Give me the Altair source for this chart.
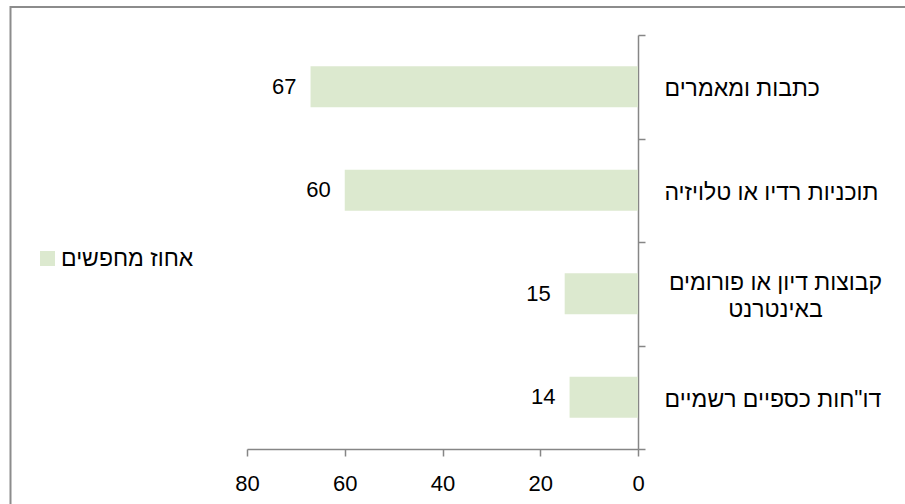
import altair as alt
import pandas as pd

# Sources searched, top to bottom
categories = [
    "כתבות ומאמרים",
    "תוכניות רדיו או טלויזיה",
    "קבוצות דיון או פורומים\nבאינטרנט",
    "דו\"חות כספיים רשמיים",
]
percent = [67, 60, 15, 14]
series_name = "אחוז מחפשים"
x_ticks = [0, 20, 40, 60, 80]

BAR = "#dce9cf"
AXIS = "#868686"
FONT = "Liberation Sans"
WRAPPED = [c for c in categories if "\n" in c]

df = pd.DataFrame({"source": categories, "value": percent, "series": series_name})

W, H = 391, 414
PAD_L, PAD_T = 247, 35

y_scale = alt.Scale(domain=categories, paddingInner=0, paddingOuter=0)

# main category axis: single-line names, left-aligned next to the axis
y_main = alt.Y(
    "source:N",
    sort=categories,
    scale=y_scale,
    axis=alt.Axis(
        orient="right",
        title=None,
        domainColor=AXIS,
        domainWidth=1.5,
        tickColor=AXIS,
        tickWidth=1.5,
        tickSize=7,
        tickBand="extent",
        labelFont=FONT,
        labelFontSize=23,
        labelColor="#000000",
        labelLimit=400,
        labelExpr="indexof(datum.label, '\\n') >= 0 ? '' : datum.label",
        labelAlign="left",
        labelPadding=19,
        labelOffset=2,
    ),
)

# second axis carrying the two-line name, centred on its lines
y_wrap = alt.Y(
    "source:N",
    sort=categories,
    scale=y_scale,
    axis=alt.Axis(
        orient="right",
        title=None,
        values=WRAPPED,
        domain=False,
        ticks=False,
        labelFont=FONT,
        labelFontSize=23,
        labelColor="#000000",
        labelLimit=400,
        labelExpr="split(datum.label, '\\n')",
        labelLineHeight=27,
        labelAlign="center",
        labelPadding=137,
        labelOffset=-11,
    ),
)

x_enc = alt.X(
    "value:Q",
    scale=alt.Scale(domain=[0, 80], reverse=True, nice=False),
    axis=alt.Axis(
        values=x_ticks,
        orient="bottom",
        title=None,
        grid=False,
        domainColor=AXIS,
        domainWidth=1.5,
        tickColor=AXIS,
        tickWidth=1.5,
        tickSize=7,
        labelFont=FONT,
        labelFontSize=22,
        labelColor="#000000",
        labelPadding=17,
        labelFlush=False,
    ),
)

bars = alt.Chart(df).mark_bar(size=41).encode(
    y=y_main,
    x=x_enc,
    color=alt.Color(
        "series:N",
        scale=alt.Scale(range=[BAR]),
        legend=alt.Legend(
            title=None,
            orient="none",
            legendX=-211,
            legendY=212,
            symbolType="square",
            symbolSize=225,
            symbolStrokeWidth=0,
            symbolOpacity=1,
            labelFont=FONT,
            labelFontSize=23,
            labelColor="#000000",
            labelOffset=2,
        ),
    ),
)

labels = alt.Chart(df).mark_text(
    align="right", baseline="middle", dx=-14, font=FONT, fontSize=22, color="#000000"
).encode(
    y=y_wrap,
    x=alt.X("value:Q"),
    text=alt.Text("value:Q"),
)

# outer frame of the chart
frame = alt.Chart(pd.DataFrame({"f": [0]})).mark_rect(
    filled=False, stroke="#8c8c8c", strokeWidth=2
).encode(
    x=alt.value(10.5 - PAD_L),
    x2=alt.value(W + 400),
    y=alt.value(7 - PAD_T),
    y2=alt.value(H + 200),
)

chart = (
    alt.layer(bars, labels, frame)
    .resolve_scale(y="shared")
    .resolve_axis(y="independent")
    .properties(
        width=W,
        height=H,
        autosize=alt.AutoSizeParams(type="none"),
        padding={"left": PAD_L, "top": PAD_T, "right": 905 - PAD_L - W, "bottom": 504 - PAD_T - H},
        background="#ffffff",
    )
    .configure_view(stroke=None)
)

chart.save("out.html", embed_options={"renderer": "svg", "actions": False})
